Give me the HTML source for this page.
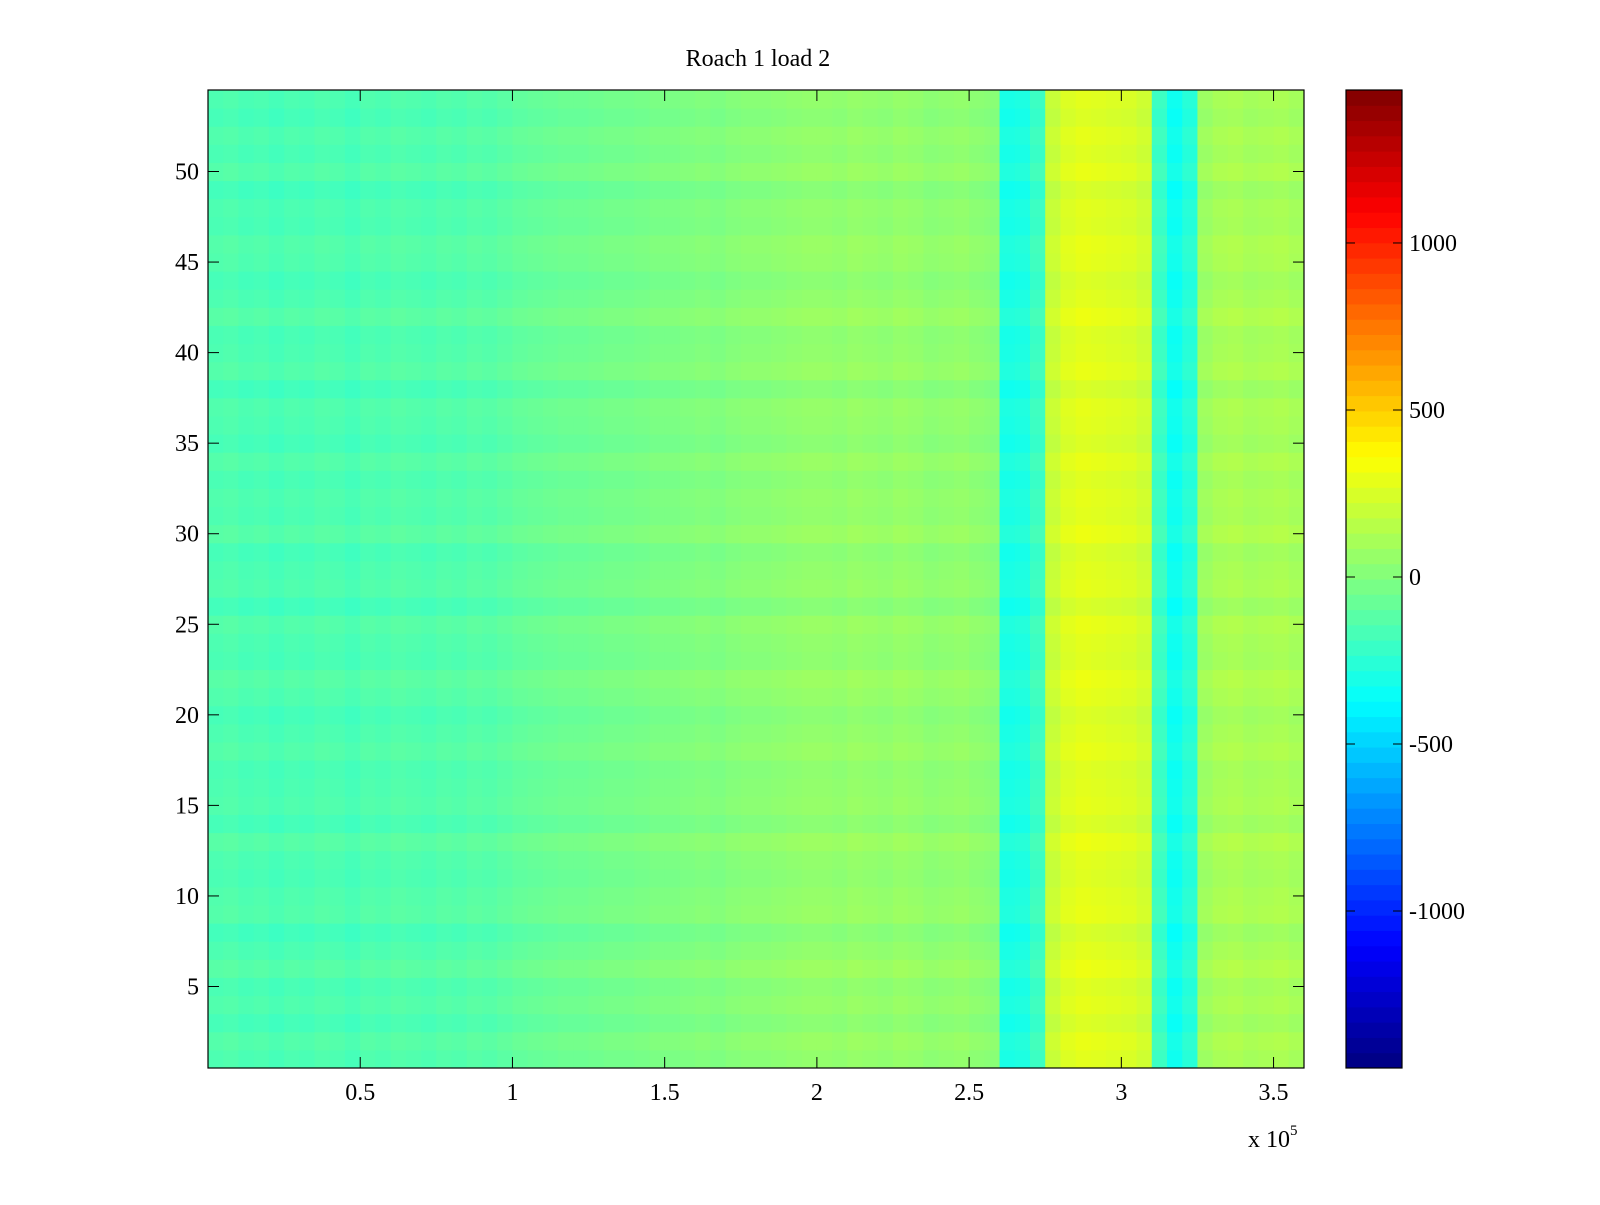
<!DOCTYPE html>
<html><head><meta charset="utf-8"><style>
body{margin:0;background:#fff;}
svg text{font-family:"Liberation Serif",serif;fill:#000;}
</style></head><body>
<svg id="chart" width="1600" height="1200" xmlns="http://www.w3.org/2000/svg">
<rect width="1600" height="1200" fill="#fff"/>
<text x="758" y="66" font-size="24" text-anchor="middle">Roach 1 load 2</text>
<g id="cells"></g>
<g id="cbar"></g>
<g id="axes"></g>
</svg>
<script>
// column profile (x bins of 0.05e5, from 0 to 3.6e5) - mean value per bin
const colValues = [-150,-140,-160,-150,-170,-150,-160,-140,-150,-170,
  -140,-150,-130,-140,-150,-130,-140,-120,-130,-110,
  -90,-80,-70,-60,-60,-50,-40,-40,-30,-20,
  -20,-10,0,-10,10,20,20,30,40,50,
  50,40,60,50,40,60,50,30,40,50,
  30,20,-300,-290,-200,200,260,280,270,260,
  250,220,-200,-330,-260,80,110,120,100,110,
  120,100];
const binW = 0.05;
// row offsets (rows 1..54)
const rowOffsets = [0,20,-20,10,-10,30,0,-30,20,10,-10,0,30,-20,10,0,-10,20,0,-20,
  10,30,-10,0,20,-30,10,0,-20,30,0,10,-10,20,-20,0,10,-30,20,0,
  -10,30,0,-20,10,20,-10,0,-30,20,-10,10,-20,0];
const xTicks = [0.5,1,1.5,2,2.5,3,3.5];
const yTicks = [5,10,15,20,25,30,35,40,45,50];
const cTicks = [-1000,-500,0,500,1000];

const NS="http://www.w3.org/2000/svg";
const PL=208,PR=1304,PT=90,PB=1068;
const XMAX=3.6, YMIN=0.5, YMAX=54.5, CMIN=-1470, CMAX=1458;
const xs=v=>PL+(v/XMAX)*(PR-PL);
const ys=v=>PB-(v-YMIN)/(YMAX-YMIN)*(PB-PT);
const cs=v=>PB-(v-CMIN)/(CMAX-CMIN)*(PB-PT);
function jet(t){t=Math.max(0,Math.min(1,t));
 const f=x=>Math.max(0,Math.min(1,x));
 const r=f(Math.min(4*t-1.5,-4*t+4.5)),g=f(Math.min(4*t-0.5,-4*t+3.5)),b=f(Math.min(4*t+0.5,-4*t+2.5));
 return `rgb(${Math.round(r*255)},${Math.round(g*255)},${Math.round(b*255)})`;}
function mk(tag,attrs,parent){const e=document.createElementNS(NS,tag);for(const k in attrs)e.setAttribute(k,attrs[k]);parent.appendChild(e);return e;}

const cells=document.getElementById('cells');
for(let i=0;i<colValues.length;i++){
 const x0=i*binW, x1=Math.min(XMAX,(i+1)*binW);
 if(x0>=XMAX) break;
 for(let j=0;j<rowOffsets.length;j++){
  const v=colValues[i]+rowOffsets[j];
  const r=mk('rect',{x:xs(x0),y:ys(j+1.5),width:xs(x1)-xs(x0)+0.5,height:ys(j+0.5)-ys(j+1.5)+0.5,fill:jet((v-CMIN)/(CMAX-CMIN))},cells);
  
  
 }
}
const axes=document.getElementById('axes');
mk('rect',{x:PL,y:PT,width:PR-PL,height:PB-PT,fill:'none',stroke:'#000','stroke-width':1.2},axes);
xTicks.forEach(t=>{const x=xs(t);
 mk('line',{x1:x,x2:x,y1:PB,y2:PB-11,stroke:'#000'},axes);
 mk('line',{x1:x,x2:x,y1:PT,y2:PT+11,stroke:'#000'},axes);
 const l=mk('text',{x:x,y:1100,'font-size':24,'text-anchor':'middle'},axes);l.textContent=t;
 
 });
yTicks.forEach(t=>{const y=ys(t);
 mk('line',{x1:PL,x2:PL+11,y1:y,y2:y,stroke:'#000'},axes);
 mk('line',{x1:PR,x2:PR-11,y1:y,y2:y,stroke:'#000'},axes);
 const l=mk('text',{x:199,y:y+8,'font-size':24,'text-anchor':'end'},axes);l.textContent=t;
 
 });
const ex=mk('text',{x:1248,y:1147,'font-size':24},axes);ex.innerHTML='x 10<tspan dy="-12" font-size="15">5</tspan>';



const cb=document.getElementById('cbar');
const N=64;
for(let k=0;k<N;k++){
 const v0=CMIN+(CMAX-CMIN)*k/N, v1=CMIN+(CMAX-CMIN)*(k+1)/N;
 const r=mk('rect',{x:1346,y:cs(v1),width:56,height:cs(v0)-cs(v1)+0.5,fill:jet((k+0.5)/N)},cb);
 
 
}
mk('rect',{x:1346,y:PT,width:56,height:PB-PT,fill:'none',stroke:'#000','stroke-width':1.2},cb);
cTicks.forEach(t=>{const y=cs(t);
 mk('line',{x1:1346,x2:1355,y1:y,y2:y,stroke:'#000'},cb);
 mk('line',{x1:1402,x2:1393,y1:y,y2:y,stroke:'#000'},cb);
 const l=mk('text',{x:1409,y:y+8,'font-size':24},cb);l.textContent=t;
 
 });
</script>
</body></html>
